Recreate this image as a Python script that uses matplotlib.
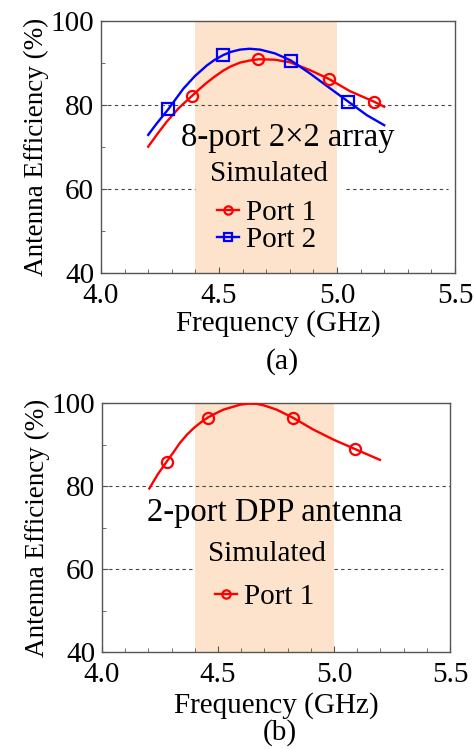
import numpy as np
import matplotlib
matplotlib.use("Agg")
import matplotlib.pyplot as plt
from matplotlib.ticker import MultipleLocator

plt.rcParams["font.family"] = ["Liberation Serif", "DejaVu Serif"]

# (a) 8-port 2x2 array, simulated efficiency
freq_a_p1 = [4.200, 4.240, 4.278, 4.330, 4.384, 4.415, 4.448, 4.480, 4.518, 4.550,
             4.589, 4.630, 4.667, 4.735, 4.800, 4.886, 4.966, 5.055, 5.157, 5.200]
eff_a_p1 = [70.1, 73.2, 76.0, 79.3, 82.1, 83.7, 85.3, 86.7, 88.2, 89.2,
            90.1, 90.6, 90.9, 90.8, 90.2, 88.3, 86.2, 83.3, 80.8, 79.6]
mk_freq_a_p1 = [4.384, 4.667, 4.966, 5.157]
mk_eff_a_p1 = [82.1, 90.9, 86.2, 80.8]

freq_a_p2 = [4.200, 4.236, 4.285, 4.349, 4.398, 4.448, 4.480, 4.518, 4.550, 4.589,
             4.630, 4.674, 4.737, 4.805, 4.886, 4.970, 5.048, 5.126, 5.200]
eff_a_p2 = [72.9, 75.6, 79.0, 83.9, 86.9, 89.4, 90.7, 91.9, 92.65, 93.2,
            93.4, 93.2, 92.3, 90.6, 87.5, 84.0, 80.8, 77.6, 75.2]
mk_freq_a_p2 = [4.285, 4.518, 4.805, 5.048]
mk_eff_a_p2 = [79.0, 91.9, 90.6, 80.8]

# (b) 2-port DPP antenna
freq_b_p1 = [4.204, 4.240, 4.279, 4.310, 4.336, 4.365, 4.394, 4.425, 4.456, 4.490,
             4.523, 4.595, 4.630, 4.667, 4.700, 4.753, 4.825, 4.911, 4.997, 5.091, 5.198]
eff_b_p1 = [79.4, 82.8, 85.9, 88.3, 90.4, 92.3, 93.9, 95.3, 96.5, 97.5,
            98.4, 99.6, 99.85, 99.8, 99.4, 98.4, 96.4, 93.6, 91.2, 88.9, 86.3]
mk_freq_b_p1 = [4.279, 4.456, 4.825, 5.091]
mk_eff_b_p1 = [85.9, 96.5, 96.4, 88.9]

band = (4.4, 5.0)
x_ticks = [4.0, 4.5, 5.0, 5.5]
y_ticks = [40, 60, 80, 100]

shade = "#fde3cb"
frame = "#555555"
grid_c = "#444444"


def setup_axes(ax, gap60, xpad):
    ax.axvspan(band[0], band[1], color=shade, lw=0, zorder=0)
    ax.axhline(80, color=grid_c, ls=(0, (3, 3)), lw=0.8, zorder=1)
    ax.hlines(60, 4.0, gap60[0], color=grid_c, ls=(0, (3, 3)), lw=0.8, zorder=1)
    ax.hlines(60, gap60[1], 5.47, color=grid_c, ls=(0, (3, 3)), lw=0.8, zorder=1)
    ax.set_xlim(4.0, 5.5)
    ax.set_ylim(40, 100)
    ax.set_xticks(x_ticks)
    ax.set_xticklabels(["%.1f" % t for t in x_ticks])
    ax.set_yticks(y_ticks)
    ax.xaxis.set_minor_locator(MultipleLocator(0.1))
    ax.yaxis.set_minor_locator(MultipleLocator(10))
    ax.tick_params(which="both", direction="in", top=False, right=False,
                   color=frame, labelsize=21)
    ax.tick_params(axis="x", pad=7)
    ax.tick_params(axis="y", pad=5)
    ax.tick_params(which="major", length=4)
    ax.tick_params(which="minor", length=3)
    for s in ax.spines.values():
        s.set_color(frame)
        s.set_linewidth(1.0)
    ax.set_xlabel("Frequency (GHz)", fontsize=21, labelpad=xpad)
    ax.set_ylabel("Antenna Efficiency (%)", fontsize=19.5, labelpad=1)


fig = plt.figure(figsize=(4.74, 7.49), dpi=100)

# panel (a)
ax1 = fig.add_axes([0.2131, 0.6355, 0.7468, 0.3364])
setup_axes(ax1, (4.40, 5.04), 1)
ax1.plot(freq_a_p1, eff_a_p1, color="red", lw=1.7, zorder=3)
ax1.plot(mk_freq_a_p1, mk_eff_a_p1, ls="none", marker="o", ms=8, mfc="none",
         mec="red", mew=1.6, zorder=4)
ax1.plot(freq_a_p2, eff_a_p2, color="blue", lw=1.7, zorder=3)
ax1.plot(mk_freq_a_p2, mk_eff_a_p2, ls="none", marker="s", ms=8, mfc="none",
         mec="blue", mew=1.6, zorder=4)
ax1.text(4.792, 72.1, "8-port 2×2 array", fontsize=23.5, ha="center", va="center")
ax1.text(4.712, 63.6, "Simulated", fontsize=21, ha="center", va="center")
h1, = ax1.plot([], [], color="red", lw=1.7, marker="o", ms=6, mfc="none", mew=1.6)
h2, = ax1.plot([], [], color="blue", lw=1.7, marker="s", ms=6, mfc="none", mew=1.6)
ax1.legend([h1, h2], ["Port 1", "Port 2"], loc="center", bbox_to_anchor=(0.4675, 0.185),
           frameon=False, fontsize=21, handlelength=0.75, handletextpad=0.25,
           labelspacing=0.0, borderpad=0)
fig.text(0.595, 0.517, "(a)", fontsize=21.5, ha="center", va="center")

# panel (b)
ax2 = fig.add_axes([0.2152, 0.1295, 0.7342, 0.3324])
setup_axes(ax2, (4.40, 5.00), 3)
ax2.plot(freq_b_p1, eff_b_p1, color="red", lw=1.7, zorder=3)
ax2.plot(mk_freq_b_p1, mk_eff_b_p1, ls="none", marker="o", ms=8, mfc="none",
         mec="red", mew=1.6, zorder=4)
ax2.text(4.746, 73.5, "2-port DPP antenna", fontsize=23.5, ha="center", va="center")
ax2.text(4.711, 63.6, "Simulated", fontsize=21, ha="center", va="center")
h3, = ax2.plot([], [], color="red", lw=1.7, marker="o", ms=6, mfc="none", mew=1.6)
ax2.legend([h3], ["Port 1"], loc="center", bbox_to_anchor=(0.468, 0.221),
           frameon=False, fontsize=21, handlelength=0.75, handletextpad=0.25,
           borderpad=0)
fig.text(0.59, 0.004, "(b)", fontsize=21, ha="center", va="bottom")

fig.savefig("out.png", dpi=100)
